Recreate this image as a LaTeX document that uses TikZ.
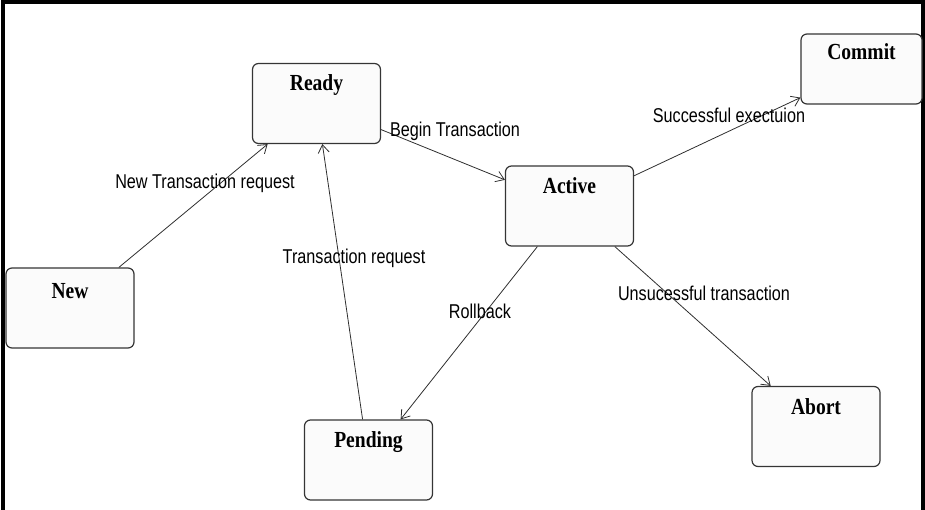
\documentclass[tikz,border=0pt]{standalone}
\usepackage{fontspec}
\usepackage{xcolor}
\usetikzlibrary{arrows.meta, positioning, calc}

\newfontfamily\statefont[FakeStretch=0.85]{Liberation Serif}
\newfontfamily\edgefont[FakeStretch=0.81]{Liberation Sans}

\definecolor{boxline}{HTML}{353535}
\definecolor{boxfill}{HTML}{FBFBFB}
\definecolor{wire}{HTML}{2E2E2E}

\begin{document}
\begin{tikzpicture}[x=1pt, y=-1pt,
    stbox/.style={rectangle, rounded corners=6pt, draw=boxline, fill=boxfill, line width=1.2pt,
        minimum width=128pt, minimum height=80pt, inner sep=0pt},
    sttitle/.style={anchor=base, inner sep=0pt, font=\statefont\bfseries\fontsize{23}{25}\selectfont},
    trans/.style={draw=wire, line width=0.8pt, -{Straight Barb[length=8pt, width=11pt]}},
    tlabel/.style={inner sep=0pt, font=\edgefont\fontsize{20}{23}\selectfont}]
    \useasboundingbox (0,0) rectangle (925,510);

    % frame (open at the bottom)
    \draw[line width=4pt] (2.5,512) -- (2.5,2) -- (922.5,2) -- (922.5,512);

    % states
    \node[stbox] (new) at (70,308) {};
    \node[stbox] (ready) at (316.5,103.5) {};
    \node[stbox] (active) at (569.5,206) {};
    \node[stbox] (pending) at (368.5,460) {};
    \node[stbox] (abort) at (816,426.5) {};
    \node[stbox, minimum width=121pt, minimum height=70pt] (commit) at (861.5,69) {};

    \node[sttitle] (newt) at ([yshift=-31pt]new.north) {New};
    \node[sttitle] (readyt) at ([yshift=-28pt]ready.north) {Ready};
    \node[sttitle] (activet) at ([yshift=-28pt]active.north) {Active};
    \node[sttitle] (pendingt) at ([yshift=-28pt]pending.north) {Pending};
    \node[sttitle] (abortt) at ([yshift=-29pt]abort.north) {Abort};
    \node[sttitle] (committ) at ([yshift=-26pt]commit.north) {Commit};

    % transitions
    \draw[trans] (new) -- (ready);
    \draw[trans] (pending) -- (ready);
    \draw[trans] (ready) -- (active);
    \draw[trans] (active) -- (commit);
    \draw[trans] (active) -- (pending);
    \draw[trans] (active) -- (abort);

    % transition labels
    \node[tlabel] (lnew) at (205,183) {New Transaction request};
    \node[tlabel] (lreq) at (354,258) {Transaction request};
    \node[tlabel] (lbegin) at (455,131) {Begin Transaction};
    \node[tlabel] (lsucc) at (729,115) {Successful exectuion};
    \node[tlabel] (lroll) at (480,311) {Rollback};
    \node[tlabel] (lfail) at (704,293) {Unsucessful transaction};
\end{tikzpicture}
\end{document}
